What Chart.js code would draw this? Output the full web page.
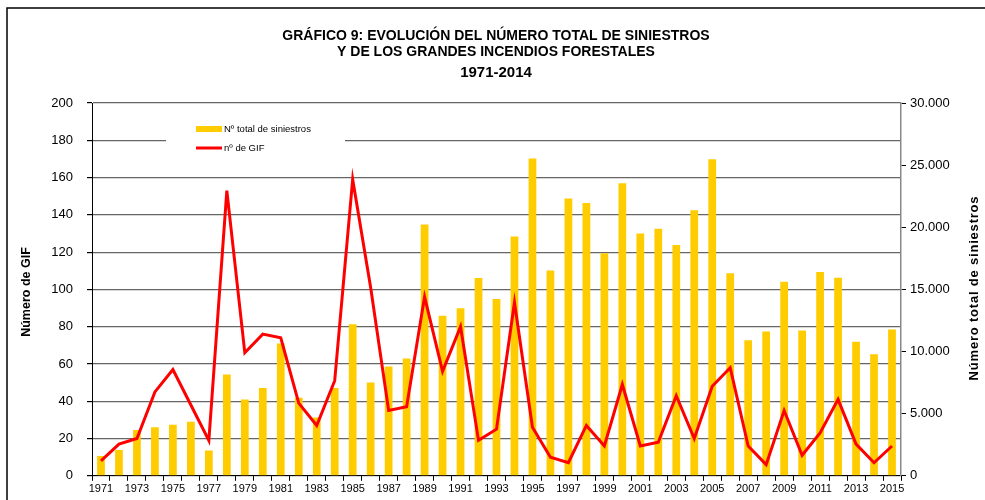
<!DOCTYPE html>
<html>
<head>
<meta charset="utf-8">
<script src="https://cdn.jsdelivr.net/npm/chart.js@4"></script>
<style>
  html, body { margin: 0; padding: 0; background: #fff; }
  #wrap { width: 985px; height: 500px; position: relative; }
</style>
</head>
<body>
<div id="wrap"><canvas id="gifChart" width="985" height="500"></canvas></div>
<script>
const years = [];
for (let y = 1971; y <= 2015; y++) years.push(String(y));

// Nº total de siniestros (right axis)
const siniestros = [
    1600, 2070, 3690, 3900, 4110, 4350, 2040, 8150, 6130, 7070,
    10650, 6290, 4700, 7070, 12200, 7500, 8790, 9430, 20220, 12880,
    13490, 15910, 14220, 19250, 25540, 16530, 22310, 21960, 17900, 23550,
    19490, 19890, 18570, 21370, 25480, 16290, 10910, 11610, 15620, 11690,
    16400, 15940, 10780, 9780, 11770
];

// nº de GIF (left axis)
const gif = [
    8, 17, 20, 45, 57, 38, 19, 153, 66, 76,
    74, 39, 27, 51, 159, 101, 35, 37, 96, 56,
    80, 19, 25, 93, 26, 10, 7, 27, 16, 49,
    16, 18, 43, 20, 48, 58, 16, 6, 35, 11,
    23, 41, 17, 7, 16
];

const leftTicks = [0, 20, 40, 60, 80, 100, 120, 140, 160, 180, 200];
const rightTicks = [0, 5000, 10000, 15000, 20000, 25000, 30000];

const titleLines = [
    "GRÁFICO 9: EVOLUCIÓN DEL NÚMERO TOTAL DE SINIESTROS",
    "Y DE LOS GRANDES INCENDIOS FORESTALES"
];
const subTitle = "1971-2014";

const FONT = "'Liberation Sans', Arial, sans-serif";
const YELLOW = "#ffcc00";
const RED = "#ff0000";

function fmtThousands(v) {
    return String(v).replace(/\B(?=(\d{3})+(?!\d))/g, ".");
}

// frame, title, legend and axis titles
const decor = {
    id: "decor",
    beforeDraw(chart) {
        const c = chart.ctx;
        c.save();
        c.fillStyle = "#fff";
        c.fillRect(0, 0, chart.width, chart.height);
        c.restore();
    },
    afterDraw(chart) {
        const c = chart.ctx;
        c.save();
        // frame
        c.strokeStyle = "#000";
        c.lineWidth = 1.5;
        c.beginPath();
        c.moveTo(7, 510);
        c.lineTo(7, 8);
        c.lineTo(990, 8);
        c.stroke();

        // title
        c.fillStyle = "#000";
        c.textAlign = "center";
        c.textBaseline = "middle";
        c.font = "bold 14px " + FONT;
        c.fillText(titleLines[0], 496, 36);
        c.fillText(titleLines[1], 496, 52);
        c.font = "bold 15px " + FONT;
        c.fillText(subTitle, 496, 73);

        // axis titles
        c.font = "bold 12.5px " + FONT;
        c.save();
        c.translate(27, 292);
        c.rotate(-Math.PI / 2);
        c.fillText("Número de GIF", 0, 0);
        c.restore();
        c.save();
        c.font = "bold 13px " + FONT;
        c.letterSpacing = "0.8px";
        c.translate(974, 288);
        c.rotate(-Math.PI / 2);
        c.fillText("Número total de siniestros", 0, 0);
        c.restore();

        // legend
        c.fillStyle = "#fff";
        c.fillRect(166, 112, 179, 48);
        c.fillStyle = YELLOW;
        c.fillRect(196, 126, 26, 6);
        c.strokeStyle = RED;
        c.lineWidth = 3;
        c.beginPath();
        c.moveTo(196, 148);
        c.lineTo(222, 148);
        c.stroke();
        c.fillStyle = "#000";
        c.textAlign = "left";
        c.font = "9.5px " + FONT;
        c.fillText("Nº total de siniestros", 224, 129);
        c.fillText("nº de GIF", 224, 148);
        c.restore();
    }
};

const ctx = document.getElementById("gifChart").getContext("2d");

const gifChart = new Chart(ctx, {
    data: {
        labels: years,
        datasets: [
            {
                type: "line",
                label: "nº de GIF",
                data: gif,
                yAxisID: "y",
                borderColor: RED,
                borderWidth: 3,
                pointRadius: 0,
                tension: 0,
                order: 0
            },
            {
                type: "bar",
                label: "Nº total de siniestros",
                data: siniestros,
                yAxisID: "y1",
                backgroundColor: YELLOW,
                barPercentage: 0.86,
                categoryPercentage: 0.5,
                order: 1
            }
        ]
    },
    options: {
        responsive: false,
        animation: false,
        layout: { padding: { top: 103, left: 0, right: 0, bottom: 2 } },
        plugins: {
            legend: { display: false },
            title: { display: false },
            tooltip: { enabled: false }
        },
        scales: {
            x: {
                offset: true,
                grid: {
                    offset: true,
                    drawOnChartArea: false,
                    drawTicks: true,
                    tickLength: 5,
                    color: "#000"
                },
                border: { color: "#000", width: 1 },
                ticks: {
                    autoSkip: false,
                    maxRotation: 0,
                    minRotation: 0,
                    color: "#000",
                    padding: 2,
                    font: { family: FONT, size: 11 },
                    callback: (v, i) => (i % 2 === 0 ? years[i] : "")
                }
            },
            y: {
                position: "left",
                min: 0,
                max: 200,
                afterBuildTicks: s => { s.ticks = leftTicks.map(v => ({ value: v })); },
                afterFit: s => { s.width = 92; },
                grid: {
                    color: "#666",
                    lineWidth: 1.2,
                    tickLength: 5,
                    tickColor: "#000"
                },
                border: { color: "#000", width: 1 },
                ticks: {
                    color: "#000",
                    padding: 14,
                    font: { family: FONT, size: 13 }
                }
            },
            y1: {
                position: "right",
                min: 0,
                max: 30000,
                afterBuildTicks: s => { s.ticks = rightTicks.map(v => ({ value: v })); },
                afterFit: s => { s.width = 84; },
                grid: {
                    drawOnChartArea: false,
                    tickLength: 5,
                    tickColor: "#000"
                },
                border: { color: "#888", width: 1.5 },
                ticks: {
                    color: "#000",
                    padding: 4,
                    font: { family: FONT, size: 13 },
                    callback: v => fmtThousands(v)
                }
            }
        }
    },
    plugins: [decor]
});
</script>
</body>
</html>
